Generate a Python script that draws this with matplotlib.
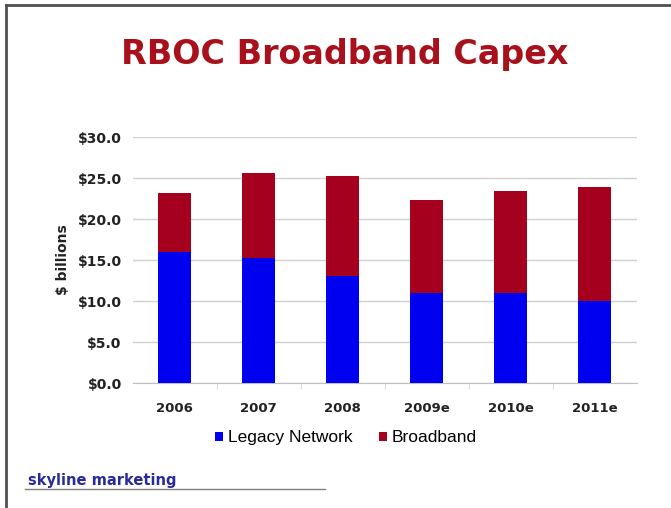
import matplotlib.pyplot as plt
import numpy as np
from matplotlib.lines import Line2D

plt.rcParams['font.family'] = ['Liberation Sans', 'DejaVu Sans']

years = ['2006', '2007', '2008', '2009e', '2010e', '2011e']
legacy = [16.0, 15.2, 13.0, 11.0, 11.0, 10.0]
broadband = [7.2, 10.4, 12.2, 11.3, 12.4, 13.9]
yticks = [0, 5, 10, 15, 20, 25, 30]

blue = '#0000f0'
red = '#a5001e'

fig = plt.figure(figsize=(6.71, 5.08), dpi=100)
ax = fig.add_axes([0.198, 0.246, 0.751, 0.484])

x = np.arange(len(years))
b1 = ax.bar(x, legacy, width=0.39, color=blue, zorder=3)
b2 = ax.bar(x, broadband, bottom=legacy, width=0.39, color=red, zorder=3)

ax.set_xlim(-0.5, len(years) - 0.5)
ax.set_ylim(0, 30)
ax.set_yticks(yticks)
ax.set_yticklabels(['$%.1f' % v for v in yticks], fontsize=10, fontweight='bold',
                   family='DejaVu Sans', color='#222222')
ax.set_xticks(x)
ax.set_xticklabels(years, fontsize=9.5, fontweight='bold', family='DejaVu Sans',
                   color='#222222')
# faint tick marks between the categories
ax.set_xticks(x[:-1] + 0.5, minor=True)
ax.tick_params(axis='x', which='minor', length=4, color='#d0d0d0', direction='out')
ax.tick_params(axis='y', length=0, pad=8)
ax.tick_params(axis='x', which='major', length=0, pad=14)
ax.grid(axis='y', color='#d0d0d0', lw=1, zorder=0)
for s in ['top', 'right', 'left']:
    ax.spines[s].set_visible(False)
ax.spines['bottom'].set_color('#c0c0c0')
ax.set_ylabel('$ billions', fontsize=10, fontweight='bold', family='DejaVu Sans',
              color='#222222')
ax.yaxis.set_label_coords(-0.125, 0.5)

fig.legend([b1, b2], ['Legacy Network', 'Broadband'], loc='center',
           bbox_to_anchor=(0.516, 0.138), ncol=2, frameon=False, fontsize=12.5,
           handlelength=0.45, handleheight=0.45, handletextpad=0.3, columnspacing=1.5)

fig.text(0.513, 0.892, 'RBOC Broadband Capex', ha='center', va='center',
         fontsize=24, fontweight='bold', color='#a8101c', family='DejaVu Sans')

fig.text(0.042, 0.055, 'skyline marketing', ha='left', va='center',
         fontsize=10.5, fontweight='bold', color='#2a2a9a', family='DejaVu Sans')
fig.add_artist(Line2D([0.038, 0.484], [0.037, 0.037], color='#808080', lw=1))

# frame on the left and top
fig.add_artist(Line2D([0.0095, 0.0095], [0, 0.99], color='#505050', lw=2))
fig.add_artist(Line2D([0.0095, 1.0], [0.99, 0.99], color='#505050', lw=2))

fig.savefig('out.png', dpi=100)
